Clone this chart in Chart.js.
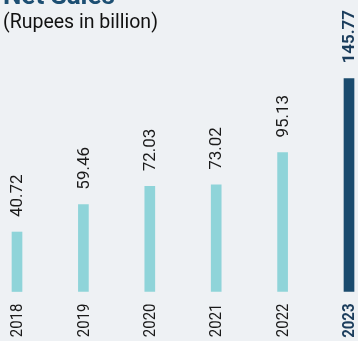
<!DOCTYPE html>
<html lang="en">
<head>
    <meta charset="UTF-8">
    <title>Net Sales</title>
    <script src="https://cdn.jsdelivr.net/npm/chart.js@4"></script>
    <style>
        html, body { margin: 0; padding: 0; background: #eef1f4; }
        #wrap { width: 358px; height: 341px; position: relative; }
    </style>
</head>
<body>
<div id="wrap"><canvas id="salesChart"></canvas></div>
<script>
    var years = ['2018', '2019', '2020', '2021', '2022', '2023'];
    var netSales = [40.72, 59.46, 72.03, 73.02, 95.13, 145.77];
    var valueLabels = ['40.72', '59.46', '72.03', '73.02', '95.13', '145.77'];

    var FONT = 'Roboto, sans-serif';
    var lightColor = '#8fd4d9';
    var darkColor = '#1b4b6e';
    var lastIdx = years.length - 1;

    // heading at the top left, the first line runs off the top edge
    var headingPlugin = {
        id: 'heading',
        afterDraw: function(chart) {
            var ctx = chart.ctx;
            ctx.save();
            ctx.textAlign = 'left';
            ctx.textBaseline = 'alphabetic';
            ctx.fillStyle = '#1d4f73';
            ctx.font = 'bold 26px ' + FONT;
            ctx.fillText('Net Sales', 3, 4);
            ctx.fillStyle = '#111111';
            ctx.font = '19.5px ' + FONT;
            ctx.fillText('(Rupees in billion)', 3, 28);
            ctx.restore();
        }
    };

    // rotated text: value above each bar, year below the baseline
    var barTextPlugin = {
        id: 'barText',
        afterDatasetsDraw: function(chart) {
            var ctx = chart.ctx;
            var meta = chart.getDatasetMeta(0);
            var base = chart.scales.y.getPixelForValue(0);
            meta.data.forEach(function(bar, i) {
                var isLast = i === lastIdx;
                ctx.save();
                ctx.font = (isLast ? 'bold ' : '') + '17px ' + FONT;
                ctx.fillStyle = isLast ? '#1b3d5c' : '#1a1a1a';
                ctx.textBaseline = 'middle';

                ctx.save();
                ctx.translate(bar.x + 1, bar.y - 15);
                ctx.rotate(-Math.PI / 2);
                ctx.textAlign = 'left';
                ctx.fillText(valueLabels[i], 0, 0);
                ctx.restore();

                // years are set a little narrower
                ctx.translate(bar.x + 1, base + 12);
                ctx.rotate(-Math.PI / 2);
                ctx.scale(0.88, 1);
                ctx.textAlign = 'right';
                ctx.fillText(years[i], 0, 0);
                ctx.restore();
            });
        }
    };

    new Chart(document.getElementById('salesChart'), {
        type: 'bar',
        data: {
            labels: years,
            datasets: [{
                data: netSales,
                backgroundColor: years.map(function(y, i) { return i === lastIdx ? darkColor : lightColor; }),
                barThickness: 10,
                clip: false
            }]
        },
        options: {
            responsive: true,
            maintainAspectRatio: false,
            animation: false,
            layout: { padding: { left: 17, right: 9, top: 14, bottom: 49.5 } },
            plugins: {
                legend: { display: false },
                tooltip: { enabled: false }
            },
            scales: {
                x: {
                    display: false,
                    offset: false
                },
                y: {
                    display: false,
                    min: 0,
                    max: 190
                }
            }
        },
        plugins: [headingPlugin, barTextPlugin]
    });
</script>
</body>
</html>
